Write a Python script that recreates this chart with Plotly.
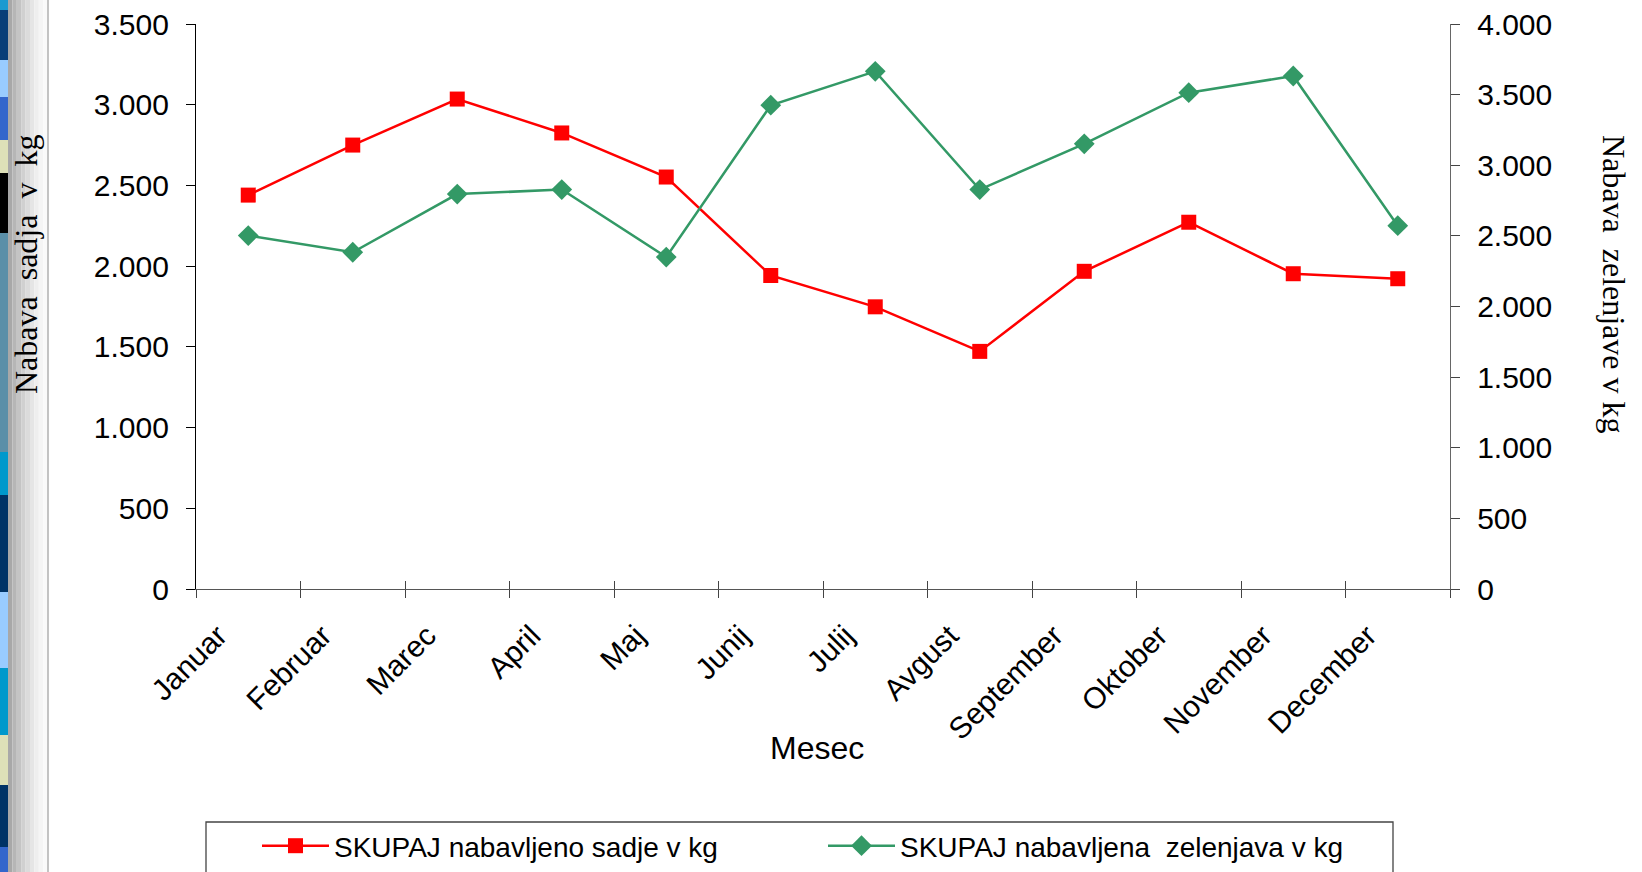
import plotly.graph_objects as go

# ---- data ----
meseci = ["Januar", "Februar", "Marec", "April", "Maj", "Junij", "Julij",
          "Avgust", "September", "Oktober", "November", "December"]
sadje = [2440, 2750, 3035, 2825, 2552, 1942, 1748, 1472, 1968, 2272, 1953, 1922]
zelenjava = [2502, 2384, 2796, 2828, 2350, 3425, 3665, 2828, 3152, 3514, 3632, 2572]

name_sadje = "SKUPAJ nabavljeno sadje v kg"
name_zel = "SKUPAJ nabavljena  zelenjava v kg"

W, H = 1642, 872
L, R, T, B = 196, 192, 24, 283
PW, PH = W - L - R, H - T - B


def px(x):
    return (x - L) / PW


def py(y):
    return (H - B - y) / PH


SANS = "Liberation Sans, Arial, sans-serif"
SERIF = "Liberation Serif, Times New Roman, serif"

fig = go.Figure()
fig.add_trace(go.Scatter(
    x=meseci, y=sadje, name=name_sadje, mode="lines+markers",
    line=dict(color="#FF0000", width=2.5),
    marker=dict(symbol="square", size=15, color="#FF0000"),
    xaxis="x", yaxis="y", legend="legend"))
fig.add_trace(go.Scatter(
    x=meseci, y=zelenjava, name=name_zel, mode="lines+markers",
    line=dict(color="#339966", width=2.5),
    marker=dict(symbol="diamond", size=16, color="#339966"),
    xaxis="x2", yaxis="y2", legend="legend2"))

xcommon = dict(type="category", categoryorder="array", categoryarray=meseci,
               range=[-0.5, len(meseci) - 0.5], tickson="boundaries",
               showgrid=False, zeroline=False, domain=[0, 1])

legend_common = dict(orientation="h", xanchor="left", yanchor="middle",
                     bgcolor="rgba(0,0,0,0)", borderwidth=0,
                     font=dict(family=SANS, size=28, color="black"),
                     itemwidth=67)

fig.update_layout(
    width=W, height=H,
    margin=dict(l=L, r=R, t=T, b=B, pad=0, autoexpand=False),
    paper_bgcolor="white", plot_bgcolor="white",
    separators=",.",
    showlegend=True,
    xaxis=dict(**xcommon, anchor="y", ticks="outside", ticklen=8, tickcolor="#444",
               showline=True, linecolor="#555", linewidth=1.3,
               tickangle=-45, tickfont=dict(family=SANS, size=30, color="black"),
               ticklabelstandoff=16, ticklabelshift=-30),
    xaxis2=dict(**xcommon, anchor="y", overlaying="x", ticks="inside", ticklen=8,
                tickcolor="#444", showticklabels=False, showline=False),
    yaxis=dict(range=[0, 3500], dtick=500, tickformat=",d", anchor="x", side="left",
               ticks="outside", ticklen=9, tickcolor="black",
               showline=True, linecolor="black", linewidth=1.3,
               showgrid=False, zeroline=False,
               tickfont=dict(family=SANS, size=30, color="black"),
               ticklabelstandoff=11),
    yaxis3=dict(range=[0, 3500], dtick=500, anchor="x", side="left", overlaying="y",
                ticks="inside", ticklen=9, tickcolor="black", showticklabels=False,
                showline=False, showgrid=False, zeroline=False),
    yaxis2=dict(range=[0, 4000], dtick=500, tickformat=",d", anchor="x2", side="right",
                overlaying="y", ticks="outside", ticklen=9, tickcolor="#444",
                showline=True, linecolor="#666", linewidth=1.3,
                showgrid=False, zeroline=False,
                tickfont=dict(family=SANS, size=30, color="black"),
                ticklabelstandoff=11),
    yaxis4=dict(range=[0, 4000], dtick=500, anchor="x", side="right", overlaying="y",
                ticks="inside", ticklen=9, tickcolor="#444", showticklabels=False,
                showline=False, showgrid=False, zeroline=False),
    legend=dict(**legend_common, x=px(257), y=py(846)),
    legend2=dict(**legend_common, x=px(823), y=py(846)),
)

annotations = [
    dict(text="Mesec", x=px(817), y=py(748), xref="paper", yref="paper",
         showarrow=False, xanchor="center", yanchor="middle",
         font=dict(family=SANS, size=32, color="black")),
    dict(text="Nabava  sadja  v  kg", x=px(26), y=py(265), xref="paper", yref="paper",
         showarrow=False, textangle=-90, xanchor="center", yanchor="middle",
         font=dict(family=SERIF, size=32, color="black")),
    dict(text="Nabava  zelenjave v kg", x=px(1614), y=py(284), xref="paper", yref="paper",
         showarrow=False, textangle=90, xanchor="center", yanchor="middle",
         font=dict(family=SERIF, size=32, color="black")),
]
fig.update_layout(annotations=annotations)

shapes = []
# legend frame
shapes.append(dict(type="rect", xref="paper", yref="paper",
                   x0=px(206), x1=px(1393), y0=py(822), y1=py(885),
                   line=dict(color="#444", width=1.3), fillcolor="white", layer="below"))
# decorative slide border on the far left
stripes = [(0, 10, "#1a9ad0"), (10, 60, "#0a3f78"), (60, 97, "#99ccff"),
           (97, 140, "#3366cc"), (140, 173, "#dde0b8"), (173, 233, "#000000"),
           (233, 452, "#5b8fa8"), (452, 495, "#0099cc"), (495, 592, "#003366"),
           (592, 668, "#99ccff"), (668, 735, "#0099cc"), (735, 785, "#dde0b8"),
           (785, 847, "#003366"), (847, 872, "#3366cc")]
for y0, y1, c in stripes:
    shapes.append(dict(type="rect", xref="paper", yref="paper",
                       x0=px(0), x1=px(8), y0=py(y0), y1=py(y1),
                       line=dict(width=0), fillcolor=c, layer="below"))
grays = ["#a8a8a8", "#b6b6b6", "#c4c4c4", "#d0d0d0", "#dbdbdb", "#e5e5e5",
         "#eeeeee", "#f5f5f5", "#fafafa"]
for i, c in enumerate(grays):
    shapes.append(dict(type="rect", xref="paper", yref="paper",
                       x0=px(8 + i * 4.4), x1=px(8 + (i + 1) * 4.4), y0=py(0), y1=py(H),
                       line=dict(width=0), fillcolor=c, layer="below"))
shapes.append(dict(type="line", xref="paper", yref="paper",
                   x0=px(48), x1=px(48), y0=py(0), y1=py(H),
                   line=dict(color="#b0b0b0", width=1.5), layer="below"))
fig.update_layout(shapes=shapes)

fig.write_html("out.html",
               config={"displayModeBar": False},
               post_script="document.body.style.margin='0';document.body.style.overflow='hidden';")
